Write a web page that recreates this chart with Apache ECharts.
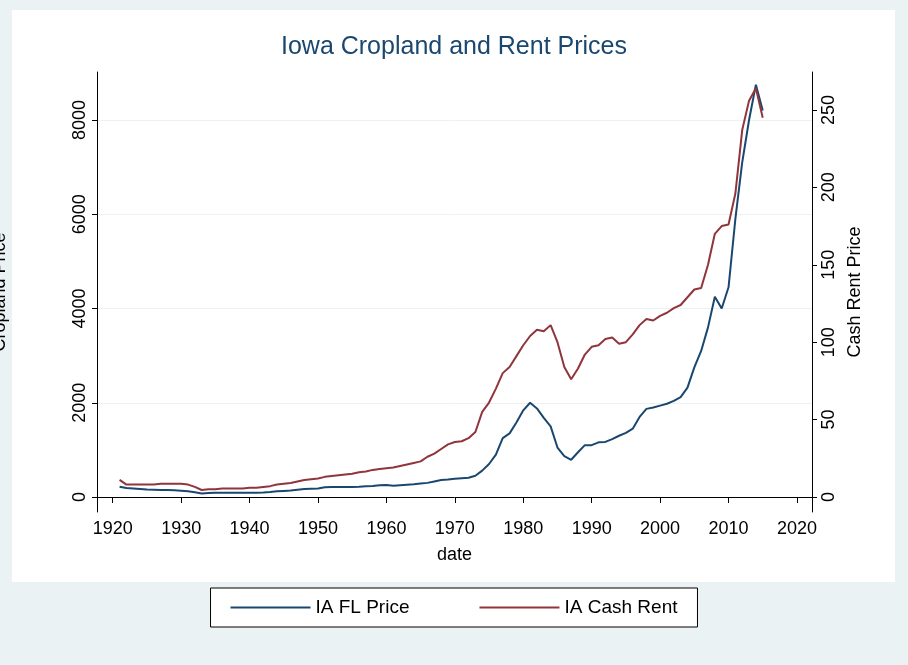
<!DOCTYPE html><html><head><meta charset="utf-8">
<script src="https://cdn.jsdelivr.net/npm/echarts@6/dist/echarts.min.js"></script>
<style>html,body{margin:0;background:#eaf2f3}#c{width:908px;height:665px}</style></head><body><div id="c"></div>
<script>
const years=[];for(let y=1921;y<=2015;y++)years.push(y);
const flPrice=[220,190,180,170,160,155,150,148,145,135,120,100,75,85,90,90,90,88,88,88,90,95,105,120,130,140,155,170,175,180,205,215,210,210,215,220,230,235,250,255,240,250,260,270,285,300,330,360,370,390,400,410,450,560,700,900,1250,1350,1580,1840,2000,1880,1680,1500,1050,870,790,950,1100,1100,1160,1170,1230,1300,1360,1450,1700,1870,1900,1940,1980,2040,2120,2320,2750,3100,3600,4250,4000,4450,5900,7100,8000,8750,8200];
const cashRent=[11,8,8,8,8,8,8.5,8.5,8.5,8.5,8,6.5,4.5,5,5,5.5,5.5,5.5,5.5,6,6,6.5,7,8,8.5,9,10,11,11.5,12,13,13.5,14,14.5,15,16,16.5,17.5,18,18.5,19,20,21,22,23,26,28,31,34,35.5,36,38,42,55,61,70,80,84,91,98,104,108,107,111,100,84,76,83,92,97,98,102,103,99,100,105,111,115,114,117,119,122,124,129,134,135,150,170,175,176,196,237,256,264,245];
const fl=years.map((y,i)=>[y,flPrice[i]]), cr=years.map((y,i)=>[y,cashRent[i]]);
const ch=echarts.init(document.getElementById('c'));
const plain=v=>String(v);
ch.setOption({
 backgroundColor:'#eaf2f3',animation:false,
 graphic:[{type:'rect',z:-10,shape:{x:12,y:10,width:883,height:572},style:{fill:'#fff'}}],
 title:{text:'Iowa Cropland and Rent Prices',left:'center',top:30,textStyle:{color:'#1a476f',fontSize:25,fontWeight:'normal',fontFamily:'Liberation Sans'}},
 legend:{bottom:38,left:'center',itemWidth:80,itemHeight:2,itemGap:70,icon:'rect',borderColor:'#000',borderWidth:1,borderRadius:0,padding:[10,20],backgroundColor:'#fff',textStyle:{fontSize:19,color:'#000',fontFamily:'Liberation Sans'},data:['IA FL Price','IA Cash Rent']},
 grid:{left:97,right:96,top:72,bottom:153,containLabel:false,outerBoundsMode:'none'},
 xAxis:{type:'value',min:1917.7,max:2022.2,name:'date',nameLocation:'middle',nameGap:34,nameTextStyle:{fontSize:18,color:'#000'},
  axisLine:{lineStyle:{color:'#000'}},splitLine:{show:false},
  axisLabel:{fontSize:18,color:'#000',formatter:plain,customValues:[1920,1930,1940,1950,1960,1970,1980,1990,2000,2010,2020]},
  axisTick:{length:6,customValues:[1920,1930,1940,1950,1960,1970,1980,1990,2000,2010,2020],lineStyle:{color:'#000'}}},
 yAxis:[{type:'value',min:-318,max:9019,name:'Cropland Price',nameLocation:'middle',nameGap:88,nameTextStyle:{fontSize:18,color:'#000'},
  axisLine:{show:true,lineStyle:{color:'#000'}},axisTick:{show:true,customValues:[0,2000,4000,6000,8000],lineStyle:{color:'#000'}},
  axisLabel:{rotate:90,fontSize:18,color:'#000',formatter:plain,customValues:[0,2000,4000,6000,8000]},splitLine:{show:false}},
  {type:'value',min:-9.7,max:274.5,name:'Cash Rent Price',nameLocation:'middle',nameGap:-16,nameRotate:90,nameTextStyle:{fontSize:18,color:'#000'},
  axisLine:{show:true,lineStyle:{color:'#000'}},axisTick:{show:true,customValues:[0,50,100,150,200,250],lineStyle:{color:'#000'}},
  axisLabel:{rotate:90,fontSize:18,color:'#000',formatter:plain,customValues:[0,50,100,150,200,250]},splitLine:{show:false}}],
 series:[
  {name:'IA FL Price',type:'line',data:fl,showSymbol:false,lineStyle:{color:'#1a476f',width:2},itemStyle:{color:'#1a476f'},
   markLine:{silent:true,symbol:'none',label:{show:false},lineStyle:{color:'#eaf2f3',type:'solid',width:1},data:[{yAxis:0},{yAxis:2000},{yAxis:4000},{yAxis:6000},{yAxis:8000}],z:-1}},
  {name:'IA Cash Rent',type:'line',yAxisIndex:1,data:cr,showSymbol:false,lineStyle:{color:'#90353b',width:2},itemStyle:{color:'#90353b'}}]
});
</script></body></html>
